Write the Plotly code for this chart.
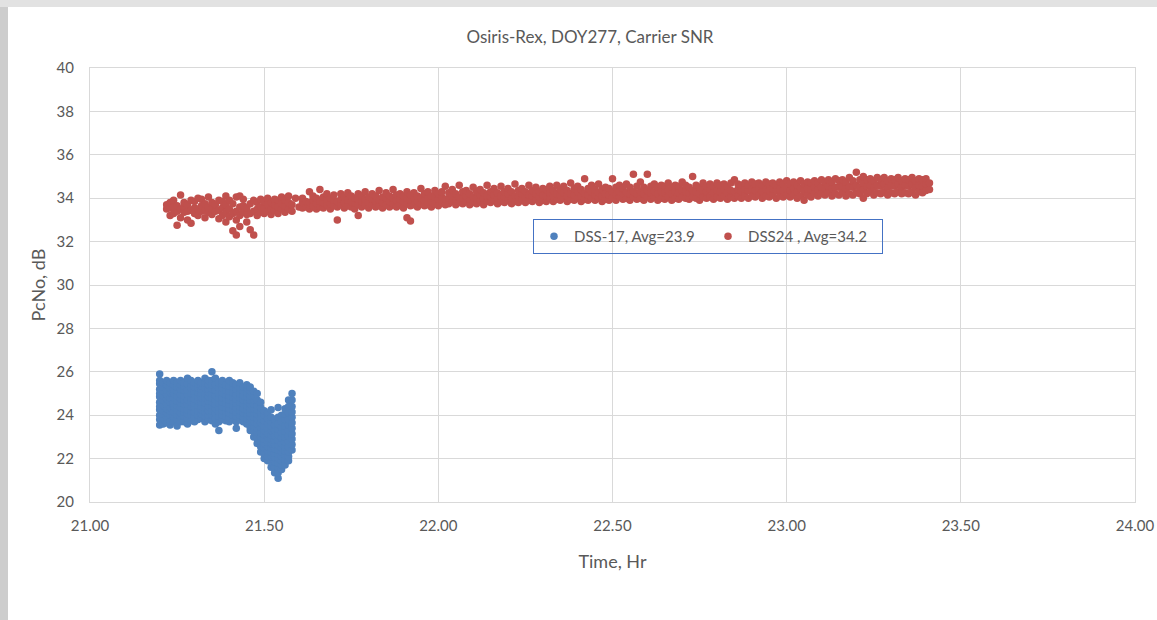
import plotly.graph_objects as go

# ---------------- data ----------------
title_text = "Osiris-Rex, DOY277, Carrier SNR"
x_title = "Time, Hr"
y_title = "PcNo, dB"
name_17 = "DSS-17, Avg=23.9"
name_24 = "DSS24 , Avg=34.2"

x_ticks = [21.00, 21.50, 22.00, 22.50, 23.00, 23.50, 24.00]
y_ticks = [20, 22, 24, 26, 28, 30, 32, 34, 36, 38, 40]

# DSS-17 : sample times (hr) and the SNR values seen at each time (dB)
dss17_time = [21.20, 21.21, 21.22, 21.23, 21.24, 21.25, 21.26, 21.27, 21.28, 21.29,
              21.30, 21.31, 21.32, 21.33, 21.34, 21.35, 21.36, 21.37, 21.38, 21.39,
              21.40, 21.41, 21.42, 21.43, 21.44, 21.45, 21.46, 21.47, 21.48, 21.49,
              21.50, 21.51, 21.52, 21.53, 21.54, 21.55, 21.56, 21.57, 21.58]
dss17_snr = [
    [23.55, 23.8, 24.0, 24.25, 24.4, 24.6, 24.85, 25.0, 25.2, 25.45, 25.6, 25.9],
    [23.6, 23.85, 24.05, 24.2, 24.45, 24.7, 24.9, 25.1, 25.3, 25.5],
    [23.65, 23.9, 24.1, 24.3, 24.5, 24.75, 24.95, 25.15, 25.4, 25.6],
    [23.55, 23.75, 24.0, 24.2, 24.35, 24.6, 24.8, 25.05, 25.25, 25.5],
    [23.7, 23.95, 24.15, 24.4, 24.55, 24.8, 25.0, 25.2, 25.4, 25.6],
    [23.5, 23.8, 24.0, 24.25, 24.45, 24.65, 24.9, 25.1, 25.3, 25.5],
    [23.7, 23.9, 24.1, 24.35, 24.55, 24.75, 24.95, 25.2, 25.4, 25.6],
    [23.7, 23.95, 24.15, 24.3, 24.5, 24.7, 24.9, 25.15, 25.35, 25.5],
    [23.6, 23.85, 24.05, 24.25, 24.5, 24.7, 24.95, 25.15, 25.45, 25.7],
    [23.75, 24.0, 24.2, 24.4, 24.6, 24.8, 25.0, 25.25, 25.45, 25.6],
    [23.7, 23.9, 24.15, 24.35, 24.55, 24.75, 24.95, 25.1, 25.3, 25.5],
    [23.8, 24.0, 24.2, 24.45, 24.65, 24.85, 25.05, 25.25, 25.45, 25.6],
    [23.85, 24.05, 24.25, 24.4, 24.6, 24.8, 25.0, 25.2, 25.35, 25.5],
    [23.7, 23.95, 24.15, 24.35, 24.55, 24.8, 25.0, 25.25, 25.5, 25.7],
    [23.8, 24.0, 24.2, 24.4, 24.65, 24.85, 25.05, 25.2, 25.4, 25.6],
    [23.75, 24.0, 24.2, 24.45, 24.6, 24.8, 25.0, 25.2, 25.4, 25.6, 26.0],
    [23.6, 23.85, 24.1, 24.3, 24.5, 24.7, 24.9, 25.15, 25.4, 25.7],
    [23.3, 23.7, 23.95, 24.15, 24.35, 24.55, 24.8, 25.0, 25.25, 25.5],
    [23.8, 24.0, 24.2, 24.4, 24.6, 24.8, 25.05, 25.25, 25.45, 25.6],
    [23.75, 23.95, 24.15, 24.35, 24.55, 24.75, 24.95, 25.15, 25.4],
    [23.7, 23.9, 24.1, 24.3, 24.5, 24.7, 24.9, 25.1, 25.35, 25.6],
    [23.8, 24.0, 24.25, 24.45, 24.65, 24.85, 25.05, 25.3, 25.5],
    [23.4, 23.7, 23.95, 24.15, 24.35, 24.55, 24.75, 24.95, 25.2, 25.4],
    [23.8, 24.0, 24.2, 24.4, 24.6, 24.8, 25.0, 25.25, 25.5],
    [23.7, 23.9, 24.1, 24.3, 24.5, 24.7, 24.9, 25.1, 25.3],
    [23.6, 23.85, 24.05, 24.25, 24.45, 24.65, 24.85, 25.05, 25.25, 25.4],
    [23.3, 23.45, 23.7, 23.9, 24.1, 24.3, 24.5, 24.7, 24.9, 25.1, 25.3],
    [23.0, 23.25, 23.5, 23.7, 23.9, 24.1, 24.3, 24.5, 24.7, 24.9, 25.1],
    [22.7, 22.95, 23.2, 23.4, 23.6, 23.85, 24.05, 24.25, 24.45, 24.7, 25.0],
    [22.3, 22.55, 22.8, 23.0, 23.2, 23.45, 23.65, 23.85, 24.1, 24.35, 24.6],
    [22.0, 22.25, 22.5, 22.7, 22.9, 23.1, 23.3, 23.5, 23.75, 24.0, 24.2],
    [21.9, 22.1, 22.35, 22.55, 22.75, 22.95, 23.15, 23.4, 23.6, 23.85, 24.1],
    [21.6, 21.85, 22.1, 22.3, 22.5, 22.7, 22.9, 23.1, 23.3, 23.5, 23.7, 23.9, 24.25],
    [21.35, 21.6, 21.85, 22.05, 22.25, 22.45, 22.65, 22.85, 23.05, 23.3, 23.55, 23.8],
    [21.1, 21.35, 21.6, 21.8, 22.0, 22.2, 22.4, 22.6, 22.85, 23.1, 23.35, 23.6, 23.9, 24.35],
    [21.5, 21.7, 21.9, 22.1, 22.3, 22.5, 22.7, 22.95, 23.2, 23.45, 23.7, 24.0],
    [21.7, 21.95, 22.15, 22.35, 22.55, 22.75, 23.0, 23.25, 23.5, 23.8, 24.05, 24.3],
    [21.9, 22.1, 22.3, 22.55, 22.8, 23.05, 23.3, 23.55, 23.8, 24.1, 24.4, 24.7],
    [22.4, 22.65, 22.9, 23.15, 23.4, 23.65, 23.9, 24.15, 24.4, 24.7, 25.0],
]

# DSS24 : sample times (hr) and the SNR values seen at each time (dB)
dss24_time = [
    21.22, 21.23, 21.24, 21.25, 21.26, 21.27, 21.28, 21.29, 21.30, 21.31,
    21.32, 21.33, 21.34, 21.35, 21.36, 21.37, 21.38, 21.39, 21.40, 21.41,
    21.42, 21.43, 21.44, 21.45, 21.46, 21.47, 21.48, 21.49, 21.50, 21.51,
    21.52, 21.53, 21.54, 21.55, 21.56, 21.57, 21.58, 21.59, 21.60, 21.61,
    21.62, 21.63, 21.64, 21.65, 21.66, 21.67, 21.68, 21.69, 21.70, 21.71,
    21.72, 21.73, 21.74, 21.75, 21.76, 21.77, 21.78, 21.79, 21.80, 21.81,
    21.82, 21.83, 21.84, 21.85, 21.86, 21.87, 21.88, 21.89, 21.90, 21.91,
    21.92, 21.93, 21.94, 21.95, 21.96, 21.97, 21.98, 21.99, 22.00, 22.01,
    22.02, 22.03, 22.04, 22.05, 22.06, 22.07, 22.08, 22.09, 22.10, 22.11,
    22.12, 22.13, 22.14, 22.15, 22.16, 22.17, 22.18, 22.19, 22.20, 22.21,
    22.22, 22.23, 22.24, 22.25, 22.26, 22.27, 22.28, 22.29, 22.30, 22.31,
    22.32, 22.33, 22.34, 22.35, 22.36, 22.37, 22.38, 22.39, 22.40, 22.41,
    22.42, 22.43, 22.44, 22.45, 22.46, 22.47, 22.48, 22.49, 22.50, 22.51,
    22.52, 22.53, 22.54, 22.55, 22.56, 22.57, 22.58, 22.59, 22.60, 22.61,
    22.62, 22.63, 22.64, 22.65, 22.66, 22.67, 22.68, 22.69, 22.70, 22.71,
    22.72, 22.73, 22.74, 22.75, 22.76, 22.77, 22.78, 22.79, 22.80, 22.81,
    22.82, 22.83, 22.84, 22.85, 22.86, 22.87, 22.88, 22.89, 22.90, 22.91,
    22.92, 22.93, 22.94, 22.95, 22.96, 22.97, 22.98, 22.99, 23.00, 23.01,
    23.02, 23.03, 23.04, 23.05, 23.06, 23.07, 23.08, 23.09, 23.10, 23.11,
    23.12, 23.13, 23.14, 23.15, 23.16, 23.17, 23.18, 23.19, 23.20, 23.21,
    23.22, 23.23, 23.24, 23.25, 23.26, 23.27, 23.28, 23.29, 23.30, 23.31,
    23.32, 23.33, 23.34, 23.35, 23.36, 23.37, 23.38, 23.39, 23.40, 23.41,
]
dss24_snr = [
    [33.5, 33.7], [33.2, 33.55, 33.8], [33.3, 33.6, 33.9], [32.75, 33.4, 33.65],
    [33.1, 33.5, 34.15], [33.35, 33.6, 33.8], [33.0, 33.4, 33.7], [32.85, 33.45, 33.9],
    [33.3, 33.55, 33.85], [33.2, 33.5, 34.0], [33.4, 33.65, 33.95], [33.1, 33.45, 33.75],
    [33.35, 33.6, 34.05], [33.25, 33.5, 33.8], [33.4, 33.7], [33.05, 33.45, 33.9],
    [33.2, 33.55, 33.85], [32.9, 33.35, 33.7, 34.1], [33.15, 33.5, 33.9], [32.5, 33.3, 33.75],
    [32.3, 33.0, 33.4, 34.05], [32.7, 33.2, 33.6, 34.1], [33.35, 33.65, 33.95], [32.9, 33.25, 33.55],
    [32.55, 33.3, 33.75], [32.3, 33.4, 33.9], [33.2, 33.5, 33.8], [33.35, 33.6, 33.95],
    [33.3, 33.55, 33.85], [33.4, 33.7, 34.0], [33.25, 33.5, 33.8], [33.45, 33.7, 33.95],
    [33.3, 33.6, 33.9], [33.5, 33.75, 34.05], [33.35, 33.65, 33.9], [33.5, 33.8, 34.1],
    [33.4, 33.7], [34.0], [33.6], [33.55, 33.8, 34.0],
    [33.6, 33.85], [33.5, 33.8, 34.3], [33.65, 33.9, 34.1], [33.5, 33.75, 34.0],
    [33.6, 33.85, 34.4], [33.55, 33.8, 34.05], [33.7, 33.95, 34.2], [33.5, 33.75, 34.0],
    [33.65, 33.9, 34.15], [33.0, 33.6, 33.85], [33.7, 33.95, 34.2], [33.55, 33.8, 34.05],
    [33.65, 33.9, 34.25], [33.6, 33.85, 34.1], [33.5, 33.8, 34.0], [33.2, 33.7, 33.95, 34.2],
    [33.6, 33.85, 34.1], [33.7, 33.95, 34.3], [33.55, 33.8, 34.05], [33.7, 33.95, 34.2],
    [33.6, 33.85, 34.1], [33.65, 33.9, 34.35], [33.55, 33.8, 34.05], [33.7, 34.0, 34.25],
    [33.6, 33.85, 34.1], [33.75, 34.0, 34.4], [33.6, 33.9, 34.15], [33.7, 33.95, 34.2],
    [33.55, 33.85, 34.1], [33.1, 33.75, 34.0, 34.3], [32.95, 33.65, 33.9, 34.15], [33.7, 34.0, 34.25],
    [33.6, 33.85, 34.1], [33.75, 34.0, 34.45], [33.65, 33.9, 34.2], [33.7, 34.0, 34.3],
    [33.6, 33.85, 34.1], [33.75, 34.05, 34.35], [33.65, 33.95, 34.2], [33.8, 34.05, 34.3],
    [33.7, 33.95, 34.55], [33.75, 34.0, 34.25], [33.85, 34.1, 34.4], [33.7, 33.95, 34.2],
    [33.8, 34.05, 34.6], [33.75, 34.0, 34.3], [33.85, 34.1, 34.35], [33.7, 33.95, 34.2],
    [33.8, 34.05, 34.5], [33.75, 34.0, 34.3], [33.9, 34.15, 34.4], [33.7, 34.0, 34.25],
    [33.85, 34.1, 34.6], [33.8, 34.05, 34.3], [33.9, 34.15, 34.45], [33.75, 34.0, 34.25],
    [33.85, 34.1, 34.55], [33.8, 34.05, 34.3], [33.9, 34.2, 34.45], [33.75, 34.0, 34.3],
    [33.85, 34.1, 34.65], [33.8, 34.05, 34.35], [33.95, 34.2, 34.45], [33.8, 34.05, 34.3],
    [33.9, 34.15, 34.6], [33.85, 34.1, 34.35], [33.95, 34.2, 34.5], [33.8, 34.05, 34.3],
    [33.9, 34.15, 34.45], [33.85, 34.1, 34.4], [34.0, 34.25, 34.55], [33.85, 34.1, 34.35],
    [33.95, 34.2, 34.6], [33.9, 34.15, 34.4], [34.0, 34.25, 34.55], [33.85, 34.1, 34.35],
    [33.95, 34.2, 34.7], [33.9, 34.15, 34.45], [34.0, 34.3, 34.55], [33.85, 34.1, 34.4],
    [33.95, 34.2, 34.9], [33.9, 34.15, 34.45], [34.0, 34.3, 34.6], [33.9, 34.15, 34.4],
    [34.0, 34.25, 34.65], [33.85, 34.1, 34.4], [33.95, 34.2, 34.5], [33.9, 34.15, 34.45],
    [34.0, 34.3, 34.9], [33.9, 34.15, 34.5], [34.05, 34.3, 34.6], [33.95, 34.2, 34.45],
    [34.0, 34.25, 34.65], [33.9, 34.2, 34.5], [34.05, 34.3, 35.1], [33.95, 34.2, 34.55],
    [34.0, 34.3, 34.75], [33.9, 34.2, 34.5], [34.05, 34.35, 35.1], [33.95, 34.25, 34.55],
    [34.05, 34.3, 34.65], [33.9, 34.2, 34.5], [34.0, 34.3, 34.6], [33.95, 34.25, 34.55],
    [34.05, 34.35, 34.7], [33.9, 34.2, 34.5], [34.0, 34.3, 34.6], [33.95, 34.25, 34.55],
    [34.05, 34.35, 34.75], [34.0, 34.3, 34.6], [33.95, 34.25, 34.5], [34.05, 34.35, 35.0],
    [34.0, 34.3, 34.6], [33.9, 34.2, 34.5], [34.05, 34.35, 34.7], [34.0, 34.3, 34.55],
    [34.05, 34.4, 34.65], [33.95, 34.25, 34.55], [34.05, 34.35, 34.7], [34.0, 34.3, 34.6],
    [34.1, 34.4, 34.65], [33.95, 34.25, 34.55], [34.05, 34.35, 34.7], [34.0, 34.3, 34.85],
    [34.1, 34.4, 34.65], [34.0, 34.3, 34.6], [34.1, 34.4, 34.7], [34.0, 34.35, 34.6],
    [34.1, 34.4, 34.75], [34.05, 34.35, 34.65], [34.15, 34.45, 34.7], [34.0, 34.3, 34.6],
    [34.1, 34.4, 34.75], [34.05, 34.35, 34.65], [34.15, 34.45, 34.7], [34.0, 34.35, 34.6],
    [34.1, 34.4, 34.75], [34.05, 34.35, 34.65], [34.15, 34.45, 34.8], [34.05, 34.35, 34.65],
    [34.15, 34.45, 34.75], [34.0, 34.3, 34.6], [34.1, 34.45, 34.8], [33.9, 34.35, 34.65],
    [34.15, 34.45, 34.75], [34.05, 34.4, 34.7], [34.2, 34.5, 34.8], [34.1, 34.4, 34.7],
    [34.2, 34.5, 34.85], [34.15, 34.45, 34.75], [34.25, 34.55, 34.85], [34.1, 34.45, 34.75],
    [34.2, 34.5, 34.9], [34.15, 34.5, 34.8], [34.25, 34.55, 34.85], [34.1, 34.45, 34.75],
    [34.2, 34.55, 34.95], [34.15, 34.5, 34.8], [34.25, 34.6, 35.2], [34.2, 34.5, 34.85],
    [34.0, 34.4, 34.7, 35.0], [34.2, 34.55, 34.85], [34.3, 34.6, 34.9], [34.15, 34.5, 34.8],
    [34.25, 34.6, 34.95], [34.2, 34.55, 34.85], [34.3, 34.65, 34.95], [34.15, 34.5, 34.8],
    [34.25, 34.6, 34.9], [34.2, 34.55, 34.85], [34.3, 34.65, 34.95], [34.2, 34.5, 34.8],
    [34.25, 34.6, 34.9], [34.2, 34.55, 34.85], [34.3, 34.65, 34.95], [34.15, 34.5, 34.8],
    [34.3, 34.6, 34.9], [34.25, 34.55, 34.85], [34.35, 34.65, 34.9], [34.4, 34.7],
]


def flatten(times, values):
    xs, ys = [], []
    for t, vals in zip(times, values):
        for v in vals:
            xs.append(t)
            ys.append(v)
    return xs, ys


x17, y17 = flatten(dss17_time, dss17_snr)
x24, y24 = flatten(dss24_time, dss24_snr)

# ---------------- styling ----------------
FONT = "Lato, 'Open Sans', sans-serif"
TXT = "#595959"
GRID = "#D9D9D9"
BLUE = "#4F81BD"
RED = "#C0504D"

# figure fills the whole page (body margin removed below)
W, H = 1157, 620
ML, MR, MT, MB = 90, 22, 68, 118
PW, PH = W - ML - MR, H - MT - MB

fig = go.Figure()
fig.add_trace(go.Scatter(x=x17, y=y17, mode="markers", name=name_17,
                         marker=dict(color=BLUE, size=7.5, line=dict(width=0))))
fig.add_trace(go.Scatter(x=x24, y=y24, mode="markers", name=name_24,
                         marker=dict(color=RED, size=7.5, line=dict(width=0))))

# grey window-frame strips at the left and top edges of the picture
frame = [
    dict(type="rect", xref="paper", yref="paper", layer="below",
         x0=-ML / PW, x1=(8 - ML) / PW, y0=-MB / PH, y1=1 + MT / PH,
         fillcolor="#CDCDCD", line=dict(width=0)),
    dict(type="rect", xref="paper", yref="paper", layer="below",
         x0=-ML / PW, x1=(W - ML) / PW, y0=1 + (MT - 7) / PH, y1=1 + MT / PH,
         fillcolor="#E2E2E2", line=dict(width=0)),
]

fig.update_layout(
    width=W, height=H,
    margin=dict(l=ML, r=MR, t=MT, b=MB, pad=0, autoexpand=False),
    paper_bgcolor="white", plot_bgcolor="white",
    font=dict(family=FONT, color=TXT, size=15),
    shapes=frame,
    title=dict(text=title_text, x=590 / W, xref="container", xanchor="center",
               y=1 - 37 / H, yref="container", yanchor="middle",
               font=dict(family=FONT, size=17, color=TXT)),
    legend=dict(orientation="h", x=(533 - ML) / PW, y=1 - (219 - MT) / PH,
                xanchor="left", yanchor="top", entrywidth=129,
                bgcolor="rgba(0,0,0,0)", bordercolor="#4472C4", borderwidth=1,
                font=dict(family=FONT, size=15, color=TXT)),
    showlegend=True,
)
fig.update_xaxes(
    range=[21, 24], tickvals=x_ticks, tickformat=".2f",
    showgrid=True, gridcolor=GRID, gridwidth=1,
    showline=True, linecolor=GRID, linewidth=1, mirror=True, zeroline=False,
    ticks="", ticklabelstandoff=10, ticklabeloverflow="allow",
    tickfont=dict(family=FONT, size=15, color=TXT),
    title=dict(text=x_title, font=dict(family=FONT, size=18, color=TXT), standoff=22),
)
fig.update_yaxes(
    range=[20, 40], tickvals=y_ticks,
    showgrid=True, gridcolor=GRID, gridwidth=1,
    showline=True, linecolor=GRID, linewidth=1, mirror=True, zeroline=False,
    ticks="", ticklabelstandoff=12,
    tickfont=dict(family=FONT, size=15, color=TXT),
    title=dict(text=y_title, font=dict(family=FONT, size=18, color=TXT), standoff=6),
)

fig.write_html("out.html",
               config={"displayModeBar": False},
               post_script="document.body.style.margin='0';"
                           "document.body.style.overflow='hidden';")
